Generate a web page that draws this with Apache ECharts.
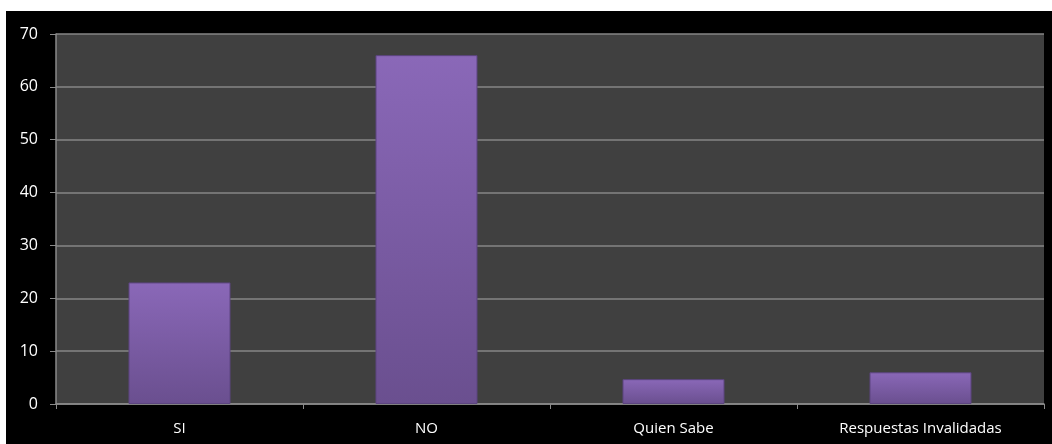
<!DOCTYPE html>
<html>
<head>
<meta charset="utf-8">
<script src="https://cdn.jsdelivr.net/npm/echarts@6/dist/echarts.min.js"></script>
<style>
html,body{margin:0;padding:0;background:#ffffff;width:1052px;height:444px;overflow:hidden;}
#chart{position:absolute;left:6px;top:11px;width:1046px;height:433px;background:#000000;}
</style>
</head>
<body>
<div id="chart"></div>
<script>
const categories = ["SI", "NO", "Quien Sabe", "Respuestas Invalidadas"];
const values = [23, 66, 4.7, 6];
const yTicks = [0, 10, 20, 30, 40, 50, 60, 70];

const chart = echarts.init(document.getElementById('chart'), null, {renderer: 'canvas'});
chart.setOption({
  backgroundColor: '#000000',
  animation: false,
  grid: {left: 50, top: 23, right: 8, bottom: 40, show: true, backgroundColor: '#404040', borderWidth: 0},
  xAxis: {
    type: 'category',
    data: categories,
    axisLine: {show: true, lineStyle: {color: '#8a8a8a', width: 1.5}},
    axisTick: {show: true, alignWithLabel: false, length: 5, lineStyle: {color: '#8a8a8a'}},
    axisLabel: {color: '#ffffff', fontFamily: 'Open Sans', fontSize: 15, margin: 17},
    splitLine: {show: false}
  },
  yAxis: {
    type: 'value',
    min: yTicks[0],
    max: yTicks[yTicks.length - 1],
    interval: 10,
    axisLine: {show: true, lineStyle: {color: '#8a8a8a', width: 1.5}},
    axisTick: {show: true, length: 6, lineStyle: {color: '#8a8a8a'}},
    axisLabel: {color: '#ffffff', fontFamily: 'Open Sans', fontSize: 16, margin: 18},
    splitLine: {show: true, lineStyle: {color: '#868686', width: 1.5}}
  },
  series: [{
    type: 'bar',
    data: values,
    barWidth: 102,
    itemStyle: {
      color: new echarts.graphic.LinearGradient(0, 0, 0, 1, [
        {offset: 0, color: '#8a68b8'},
        {offset: 1, color: '#6a4f8f'}
      ]),
      borderColor: '#5c4580',
      borderWidth: 1
    }
  }]
});
</script>
</body>
</html>
